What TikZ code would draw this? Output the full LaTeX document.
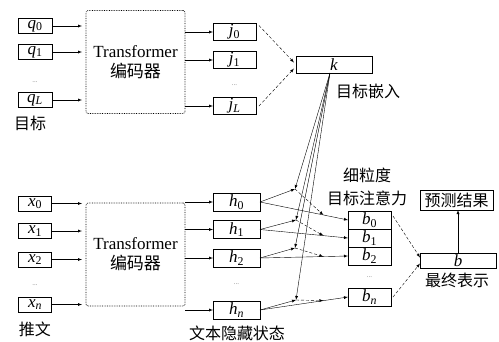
\documentclass[tikz,border=0pt]{standalone}
\usepackage{fontspec}
\setmainfont{Liberation Serif}
\newfontfamily\cjk{Noto Sans CJK SC}
\usetikzlibrary{arrows, calc}

\newcommand{\var}[2]{\textit{#1}\textsubscript{#2}}

\begin{document}
\begin{tikzpicture}[x=1pt, y=-1pt,
  every node/.style={inner sep=0pt, outer sep=0pt},
  cell/.style={draw, line width=0.6pt, font=\fontsize{17}{17}\selectfont},
  encoder/.style={draw, densely dotted, line width=0.7pt, rounded corners=2pt, minimum width=99, minimum height=103, align=center, font=\fontsize{17}{20}\selectfont},
  caption/.style={font=\cjk\fontsize{16}{23}\selectfont, align=center},
  gap/.style={font=\fontsize{7}{7}\selectfont, text=gray},
  link/.style={-latex},
  hint/.style={-latex, densely dashed}]

  \useasboundingbox (0,0) rectangle (499,341);

  % target side
  \node[encoder] (enc1) at (135.5,62) {Transformer\\{\cjk 编码器}};
  \foreach \name/\idx/\y in {0/0/26, 1/1/52, L/\textit{L}/100} {
    \node[cell, minimum width=34, minimum height=15] (q\name) at (35,\y) {\var{q}{\idx}};
    \draw[link, shorten >=4] (q\name.east) -- (q\name.east -| enc1.west);
  }
  \foreach \name/\idx/\y in {0/0/32, 1/1/60, L/\textit{L}/106} {
    \node[cell, minimum width=43, minimum height=17] (j\name) at (234.5,\y) {\var{j}{\idx}};
    \draw[link] (j\name.west -| enc1.east) -- (j\name.west);
  }
  \node[gap] (qdots) at (35,82) {...};
  \node[gap] (jdots) at (234.5,85) {...};
  \node[caption] (target) at (30,123) {目标};

  \node[cell, minimum width=76, minimum height=17] (k) at (334,64.5) {\textit{k}};
  \draw[hint] ([shift={(3,2)}]j0.north east) -- ([shift={(-2,-2)}]k.west);
  \draw[hint] ([xshift=3]jL.east) -- ([shift={(-2,4)}]k.west);
  \node[caption, anchor=west] (embed) at (336,91) {目标嵌入};

  % tweet side
  \node[encoder] (enc2) at (135.5,254.5) {Transformer\\{\cjk 编码器}};
  \foreach \name/\idx/\y in {0/0/203.5, 1/1/231, 2/2/259.5, n/\textit{n}/304.5} {
    \node[cell, minimum width=33, minimum height=15] (x\name) at (35,\y) {\var{x}{\idx}};
    \draw[link, shorten >=4] (x\name.east) -- (x\name.east -| enc2.west);
  }
  \foreach \name/\idx/\y in {0/0/202, 1/1/229.5, 2/2/258, n/\textit{n}/310} {
    \node[cell, minimum width=47, minimum height=18] (h\name) at (236.5,\y) {\var{h}{\idx}};
    \draw[link] (h\name.west -| enc2.east) -- (h\name.west);
  }
  \node[gap] (xdots) at (35,285) {...};
  \node[gap] (hdots) at (236.5,284) {...};
  \node[caption] (tweet) at (35,329) {推文};
  \node[caption] (hidden) at (237,333) {文本隐藏状态};

  % fine-grained attention
  \foreach \name/\idx/\y in {0/0/220, 1/1/238, 2/2/256, n/\textit{n}/297} {
    \node[cell, minimum width=43, minimum height=18] (b\name) at (369.5,\y) {\var{b}{\idx}};
  }
  \node[gap] (bdots) at (369.5,277) {...};
  \node[caption] (attn) at (367,186.5) {细粒度\\目标注意力};

  \coordinate (m0) at (295,189);
  \coordinate (m1) at (296,220);
  \coordinate (m2) at (295,248);
  \coordinate (mn) at (296,300);
  \foreach \i in {0,1,2,n} {
    \draw[link] ([xshift=-4]k.south) -- (m\i);
    \draw[link] (h\i.east) -- (m\i);
    \draw[link] (h\i.east) -- (b\i.west);
    \draw[hint] (m\i) -- ($(h\i.east)!0.72!(b\i.west)$);
  }

  % output
  \node[cell, minimum width=76, minimum height=15] (fin) at (458,260.5) {\textit{b}};
  \node[caption] (final) at (457,280) {最终表示};
  \node[draw, line width=0.6pt, caption, minimum width=73, minimum height=20] (pred) at (456.5,200) {预测结果};
  \draw[hint] ([shift={(2,-4)}]b0.east) -- ([yshift=3]fin.west);
  \draw[hint] ([xshift=2]bn.east) -- ([yshift=-3]fin.west);
  \draw[link] (fin.north) -- (fin.north |- pred.south);
\end{tikzpicture}
\end{document}
